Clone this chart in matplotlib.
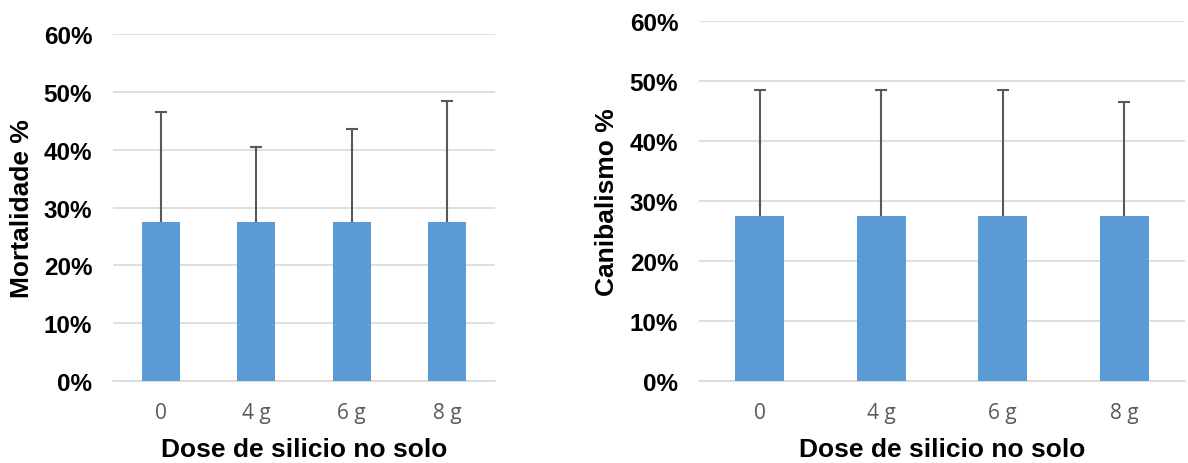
import matplotlib.pyplot as plt
from matplotlib.ticker import PercentFormatter
import numpy as np

doses = ['0', '4 g', '6 g', '8 g']
mortalidade = [27.5, 27.5, 27.5, 27.5]
mortalidade_top = [46.5, 40.5, 43.5, 48.5]   # top of error bar
canibalismo = [27.5, 27.5, 27.5, 27.5]
canibalismo_top = [48.5, 48.5, 48.5, 46.5]

bar_color = '#5B9BD5'
grid_color = '#D9D9D9'

fig = plt.figure(figsize=(11.88, 4.64), dpi=100)
ax1 = fig.add_axes([113/1188, 82/464, 382/1188, 347/464])
ax2 = fig.add_axes([699/1188, 82/464, 486/1188, 360/464])


def draw(ax, vals, tops, ylabel, ylab_x, xlab_y):
    x = np.arange(len(doses))
    up = np.array(tops) - np.array(vals)
    ax.bar(x, vals, width=0.4, color=bar_color, zorder=3)
    eb = ax.errorbar(x, vals, yerr=[np.zeros(len(vals)), up], fmt='none',
                     ecolor='#595959', elinewidth=1.5, capsize=4.5, capthick=1.5, zorder=4)
    eb[1][0].set_visible(False)  # no cap at bar top
    ax.set_xlim(-0.5, len(doses) - 0.5)
    ax.set_ylim(0, 60)
    ax.set_yticks(np.arange(0, 61, 10))
    ax.yaxis.set_major_formatter(PercentFormatter(decimals=0))
    ax.yaxis.grid(True, color=grid_color, linewidth=1.2, zorder=0)
    for s in ['top', 'right', 'left']:
        ax.spines[s].set_visible(False)
    ax.spines['bottom'].set_color(grid_color)
    ax.spines['bottom'].set_linewidth(1.2)
    ax.tick_params(axis='both', length=0)
    ax.tick_params(axis='y', pad=15)
    ax.tick_params(axis='x', pad=15)
    ax.set_xticks(x)
    ax.set_xticklabels(doses, fontfamily='Open Sans', fontsize=15, color='#595959')
    for t in ax.get_yticklabels():
        t.set_fontfamily('Liberation Sans')
        t.set_fontweight('bold')
        t.set_fontsize(17.5)
    ax.set_xlabel('Dose de silicio no solo', fontfamily='Liberation Sans',
                  fontweight='bold', fontsize=19, va='center')
    ax.set_ylabel(ylabel, fontfamily='Liberation Sans', fontweight='bold',
                  fontsize=19, va='center')
    ax.xaxis.set_label_coords(0.5, xlab_y)
    ax.yaxis.set_label_coords(ylab_x, 0.5)


draw(ax1, mortalidade, mortalidade_top, 'Mortalidade %', -0.238, -0.196)
draw(ax2, canibalismo, canibalismo_top, 'Canibalismo %', -0.189, -0.189)

fig.savefig('out.png', dpi=100)
